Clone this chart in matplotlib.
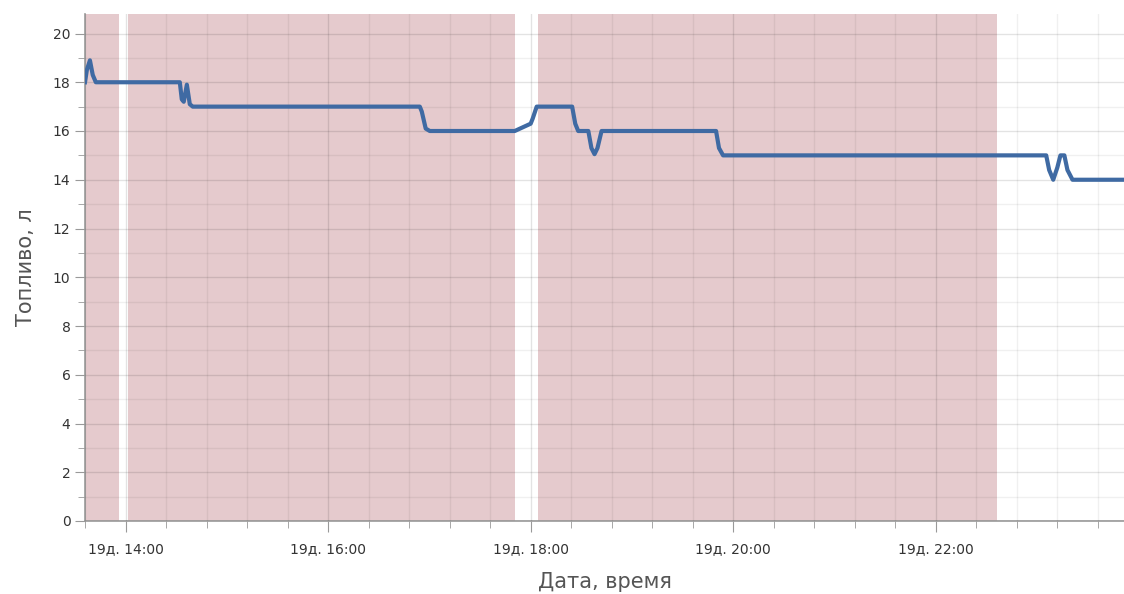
import matplotlib
matplotlib.use("Agg")
import matplotlib.pyplot as plt
from matplotlib.ticker import MultipleLocator, FuncFormatter

# ---- data ----
times = ["13:36:00", "13:37:05", "13:38:55", "13:40:35", "13:42:25",
         "14:32:10", "14:33:20", "14:34:30", "14:36:20", "14:38:05", "14:39:50",
         "16:54:20", "16:55:30", "16:57:50", "17:00:15",
         "17:50:35", "18:00:00", "18:01:10", "18:03:35",
         "18:24:35", "18:26:25", "18:28:10",
         "18:34:10", "18:36:00", "18:37:50", "18:39:35", "18:42:00",
         "19:49:50", "19:51:35", "19:54:00",
         "23:05:25", "23:07:10", "23:09:35", "23:12:00", "23:13:50",
         "23:16:10", "23:18:00", "23:21:00", "23:51:30"]
fuel = [18.0, 18.5, 18.9, 18.3, 18.0,
        18.0, 17.3, 17.2, 17.9, 17.1, 17.0,
        17.0, 16.8, 16.1, 16.0,
        16.0, 16.3, 16.5, 17.0,
        17.0, 16.3, 16.0,
        16.0, 15.3, 15.05, 15.3, 16.0,
        16.0, 15.3, 15.0,
        15.0, 14.4, 14.0, 14.5, 15.0,
        15.0, 14.4, 14.0, 14.0]

span_starts = ["13:36:00", "14:01:20", "18:04:10"]
span_ends = ["13:56:00", "17:50:35", "22:36:00"]

x_start = "13:36:00"
x_end = "23:51:30"
y_max = 20.8
day_label = "19д."
xlabel = "Дата, время"
ylabel = "Топливо, л"


def to_h(s):
    h, m, sec = (int(v) for v in s.split(":"))
    return h + m / 60 + sec / 3600


xs = [to_h(t) for t in times]

fig = plt.figure(figsize=(11.24, 5.94), dpi=100)
ax = fig.add_axes([85 / 1124, 1 - 521 / 594, 1 - 85 / 1124, (521 - 14) / 594])

for a, b in zip(span_starts, span_ends):
    ax.axvspan(to_h(a), to_h(b), color="#e5cacd", lw=0, zorder=1)

ax.plot(xs, fuel, color="#3f6aa3", lw=3, zorder=3, solid_joinstyle="round")

ax.set_xlim(to_h(x_start), to_h(x_end))
ax.set_ylim(0, y_max)

ax.xaxis.set_major_locator(MultipleLocator(2))
ax.xaxis.set_minor_locator(MultipleLocator(0.4))
ax.yaxis.set_major_locator(MultipleLocator(2))
ax.yaxis.set_minor_locator(MultipleLocator(1))


def fmt(v, pos):
    h = int(round(v)) % 24
    return f"{day_label} {h:02d}:00"


ax.xaxis.set_major_formatter(FuncFormatter(fmt))
ax.yaxis.set_major_formatter(FuncFormatter(lambda v, p: f"{int(round(v))}"))

ax.set_axisbelow(False)
ax.grid(which="major", color="#000000", alpha=0.11, lw=1, zorder=2)
ax.grid(which="minor", color="#000000", alpha=0.06, lw=1, zorder=2)

for side in ["top", "right"]:
    ax.spines[side].set_visible(False)
for side in ["left", "bottom"]:
    ax.spines[side].set_color("#999999")
    ax.spines[side].set_linewidth(1.2)

ax.tick_params(which="major", length=8, color="#999999", labelsize=10,
               labelcolor="#333333")
ax.tick_params(which="minor", length=5, color="#999999")
ax.tick_params(axis="x", which="major", pad=7)
ax.tick_params(axis="y", which="major", length=7)

ax.set_xlabel(xlabel, fontsize=15, color="#555555", labelpad=12)
ax.set_ylabel(ylabel, fontsize=15, color="#555555", labelpad=12)

fig.savefig("out.png", dpi=100)
